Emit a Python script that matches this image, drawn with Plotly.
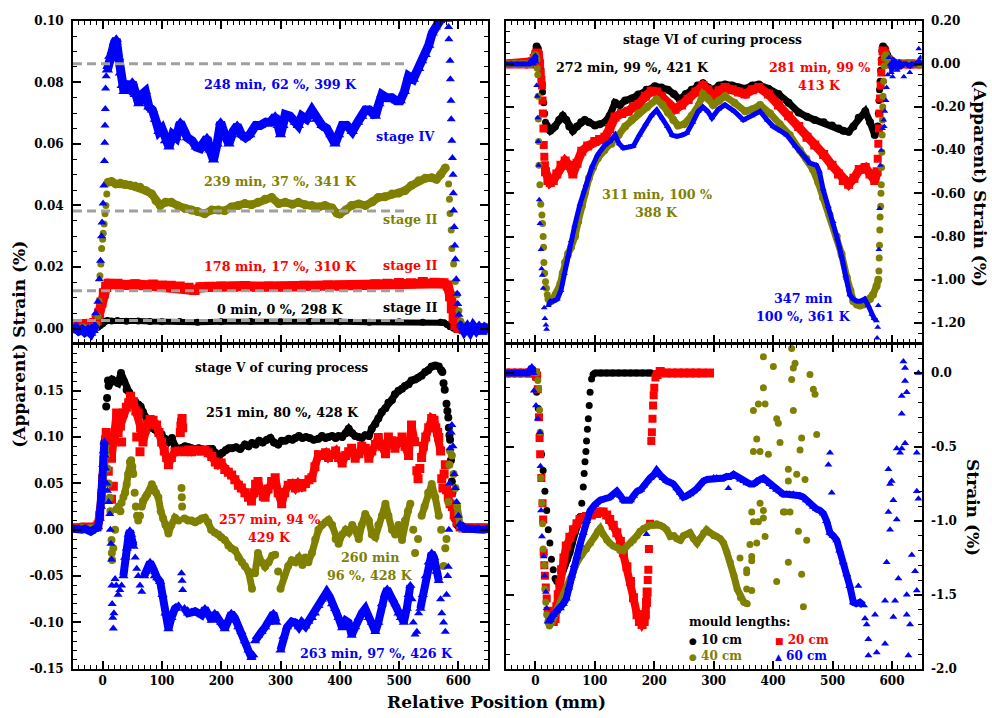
import plotly.graph_objects as go

W, H = 992, 718
FONT = "DejaVu Serif"
BLACK, RED, OLIVE, BLUE = "#000000", "#ff0000", "#808000", "#0000ff"
GRAY = "#a0a0a0"

# ---------------- top-left panel (stages II / IV), strain in % ----------------
TL_BLACK = [(-50,0.0000),(-42,-0.0005),(-35,0.0003),(-28,-0.0004),(-20,0.0002),(-14,-0.0003),(-8,0.0004),(-4,0.0010),(0,0.0016),(4,0.0024),(8,0.0026),(15,0.0025),(25,0.0026),(40,0.0024),(60,0.0025),(80,0.0023),(100,0.0022),(130,0.0023),(160,0.0021),(200,0.0022),(250,0.0023),(300,0.0022),(350,0.0023),(400,0.0022),(450,0.0021),(500,0.0022),(540,0.0021),(570,0.0021),(576,0.0019),(581,0.0013),(586,0.0006),(592,0.0001),(600,-0.0004),(610,0.0001),(620,-0.0006),(630,0.0002),(640,-0.0005),(650,0.0000)]
TL_RED = [(-50,0.0003),(-42,0.0008),(-35,0.0015),(-28,0.0012),(-20,0.0016),(-14,0.0018),(-10,0.0027),(-6,0.0050),(-2,0.0085),(2,0.0115),(6,0.0135),(10,0.0146),(15,0.0144),(25,0.0146),(40,0.0142),(55,0.0144),(70,0.0141),(85,0.0143),(100,0.0140),(115,0.0139),(130,0.0137),(145,0.0133),(155,0.0125),(165,0.0134),(180,0.0136),(200,0.0137),(220,0.0136),(240,0.0138),(260,0.0136),(280,0.0137),(300,0.0136),(320,0.0137),(340,0.0139),(360,0.0138),(380,0.0140),(400,0.0139),(420,0.0141),(440,0.0142),(460,0.0144),(480,0.0146),(500,0.0148),(520,0.0147),(540,0.0151),(560,0.0149),(575,0.0147),(582,0.0140),(586,0.0105),(589,0.0066),(592,0.0035),(595,0.0012),(600,0.0002),(610,-0.0002),(620,0.0003),(630,-0.0003),(640,0.0002),(650,0.0000)]
TL_OLIVE = [(-50,0.0002),(-42,-0.0004),(-34,0.0003),(-26,-0.0002),(-18,0.0002),(-13,0.0004),None,(9,0.0475),(15,0.0478),(22,0.0470),(30,0.0472),(38,0.0468),(46,0.0466),(55,0.0462),(63,0.0459),(73,0.0448),(83,0.0437),(90,0.0415),(97,0.0400),(106,0.0410),(116,0.0410),(128,0.0398),(139,0.0390),(150,0.0385),(160,0.0380),(172,0.0373),(184,0.0385),(195,0.0385),(206,0.0383),(217,0.0395),(229,0.0400),(240,0.0406),(251,0.0402),(262,0.0410),(274,0.0420),(285,0.0426),(297,0.0406),(308,0.0410),(320,0.0404),(330,0.0410),(342,0.0402),(353,0.0400),(364,0.0395),(375,0.0400),(387,0.0392),(395,0.0375),(400,0.0372),(410,0.0385),(420,0.0400),(432,0.0405),(443,0.0400),(455,0.0412),(465,0.0426),(476,0.0428),(488,0.0437),(499,0.0440),(510,0.0448),(521,0.0465),(533,0.0480),(544,0.0488),(555,0.0490),(563,0.0485),(570,0.0500),(578,0.0522),None,(607,0.0010),(615,-0.0004),(625,0.0003),(635,-0.0003),(645,0.0002),(650,0.0000)]
TL_OLIVE_DOTS = [(-12,0.0005),(-10,0.0013),(-8,0.004),(-6,0.009),(-4.5,0.0172),(-3,0.021),(-1.7,0.026),(0,0.029),(1,0.031),(2.5,0.034),(4,0.0373),(5.5,0.040),(7,0.0437),(583.5,0.047),(585,0.042),(586,0.0374),(588,0.032),(589,0.026),(592,0.021),(595,0.0153),(598,0.011),(601,0.0058),(604,0.0025)]
TL_BLUE = [(-50,-0.0005),(-45,0.0002),(-40,-0.0008),(-35,-0.0003),(-30,-0.0012),(-25,-0.0005),(-20,-0.0015),(-16,-0.0006),(-13,0.0010),None,(8,0.084),(12,0.0885),(16,0.090),(20,0.093),(23,0.094),(27,0.088),(30,0.083),(33,0.079),(36,0.077),(40,0.079),(45,0.078),(50,0.080),(55,0.076),(61,0.073),(66,0.076),(72,0.077),(78,0.072),(84,0.071),(89,0.068),(95,0.064),(100,0.065),(106,0.061),(112,0.059),(118,0.063),(124,0.062),(131,0.067),(137,0.064),(143,0.062),(151,0.061),(158,0.059),(165,0.0585),(170,0.061),(176,0.062),(181,0.058),(187,0.0548),(193,0.060),(199,0.067),(206,0.063),(213,0.060),(220,0.064),(227,0.066),(234,0.063),(241,0.062),(248,0.063),(258,0.066),(266,0.066),(275,0.067),(283,0.067),(291,0.069),(296,0.066),(300,0.063),(304,0.066),(308,0.0695),(316,0.069),(325,0.067),(330,0.066),(336,0.069),(344,0.068),(353,0.071),(361,0.068),(370,0.066),(378,0.065),(385,0.063),(392,0.060),(398,0.063),(404,0.066),(412,0.066),(421,0.064),(430,0.067),(437,0.069),(443,0.071),(450,0.071),(460,0.069),(466,0.073),(471,0.076),(479,0.075),(488,0.075),(495,0.074),(502,0.074),(509,0.077),(516,0.082),(524,0.081),(533,0.0845),(538,0.087),(544,0.089),(550,0.092),(556,0.096),(561,0.098),(567,0.1005),(572,0.101),(577,0.101),(581,0.1005),None,(605,0.0010),(610,-0.0008),(615,0.0005),(620,-0.0010),(625,0.0008),(630,-0.0005),(635,0.0010),(640,-0.0012),(645,0.0002),(650,-0.0005)]
TL_BLUE_DOTS = [(-12,0.005),(-8,0.0087),(-5.6,0.016),(-3.6,0.022),(-1.9,0.030),(-1,0.0345),(0.8,0.0406),(2,0.0465),(3,0.0544),(3.5,0.0604),(4,0.066),(4.5,0.0713),(5,0.078),(6,0.082),(7,0.085),(583.5,0.098),(584,0.094),(586,0.087),(586.5,0.081),(587.5,0.074),(588,0.068),(589,0.061),(590,0.0554),(591,0.050),(591.5,0.044),(592,0.0384),(593,0.033),(594,0.027),(595,0.0225),(596.5,0.016),(598,0.0113),(599,0.008),(601,0.0045),(603,0.0015)]
TL_REF_LEVELS = [0.086, 0.0382, 0.0123, 0.0026]
TL_REF_X = [-50, 513]

# ---------------- top-right panel (stage VI) ----------------
TR_BLACK = [(-50,0.0),(-35,0.0),(-20,0.0),(-10,0.0),(-5,0.01),(-2,0.03),(0,0.05),(2,0.08),(4,0.07),(6,0.03),(8,-0.02),None,(19,-0.286),(22,-0.30),(25,-0.31),(29,-0.30),(33,-0.29),(40,-0.26),(46,-0.24),(52,-0.26),(57,-0.29),(63,-0.31),(70,-0.29),(77,-0.27),(83,-0.26),(90,-0.27),(100,-0.285),(108,-0.28),(117,-0.27),(125,-0.24),(134,-0.18),(142,-0.19),(151,-0.17),(162,-0.16),(173,-0.142),(187,-0.12),(201,-0.104),(212,-0.11),(223,-0.12),(233,-0.14),(243,-0.165),(253,-0.14),(263,-0.12),(273,-0.10),(282,-0.09),(291,-0.11),(299,-0.12),(309,-0.10),(319,-0.095),(331,-0.10),(342,-0.11),(353,-0.115),(365,-0.10),(376,-0.096),(392,-0.115),(409,-0.14),(426,-0.18),(443,-0.225),(457,-0.245),(470,-0.26),(485,-0.27),(499,-0.285),(510,-0.30),(518,-0.31),(527,-0.315),(535,-0.29),(544,-0.25),(555,-0.22),(563,-0.27),(571,-0.33),(576,-0.29),None,(585,0.08),(588,0.07),(592,0.04),(596,0.02),(600,0.01),(605,0.0),(620,0.0),(635,0.0),(650,0.0)]
TR_BLACK_DOTS = [(10,-0.074),(11,-0.10),(12,-0.13),(14,-0.18),(15.5,-0.23),(17,-0.27),(577,-0.23),(578,-0.17),(579,-0.12),(580,-0.08),(581,-0.03),(582,0.02),(583,0.06)]
TR_RED = [(-50,0.0),(-35,0.0),(-20,0.0),(-10,0.0),(-5,0.01),(-2,0.025),(1,0.045),(3,0.05),(5,0.04),(7,0.0),None,(17,-0.50),(21,-0.54),(25,-0.55),(30,-0.54),(36,-0.51),(43,-0.47),(50,-0.45),(57,-0.47),(63,-0.51),(70,-0.46),(78,-0.405),(88,-0.38),(100,-0.36),(108,-0.35),(117,-0.34),(125,-0.30),(134,-0.246),(145,-0.23),(156,-0.22),(165,-0.20),(173,-0.19),(185,-0.15),(195,-0.127),(204,-0.13),(212,-0.15),(223,-0.19),(235,-0.21),(246,-0.19),(257,-0.165),(270,-0.13),(282,-0.10),(290,-0.12),(299,-0.15),(309,-0.125),(319,-0.11),(331,-0.12),(342,-0.13),(353,-0.14),(365,-0.12),(376,-0.11),(392,-0.14),(409,-0.19),(426,-0.24),(443,-0.29),(457,-0.34),(470,-0.376),(485,-0.42),(499,-0.47),(510,-0.51),(518,-0.54),(527,-0.558),(536,-0.53),(545,-0.49),(555,-0.48),(563,-0.51),(571,-0.54),(575,-0.50),None,(585,0.06),(588,0.05),(593,0.02),(598,0.0),(610,0.0),(630,0.0),(650,0.0)]
TR_RED_DOTS = [(9,-0.04),(10,-0.074),(11,-0.10),(12,-0.17),(12.5,-0.23),(13.5,-0.30),(14,-0.376),(15,-0.43),(16,-0.47),(576,-0.44),(577,-0.37),(578,-0.30),(579,-0.23),(580,-0.16),(581,-0.10),(582,-0.04),(583,0.01)]
TR_OLIVE = [(-50,0.0),(-35,0.0),(-20,0.0),(-10,0.0),(-5,0.01),(-2,0.03),(0,0.04),(2,0.02),None,(22,-1.09),(26,-1.10),(30,-1.09),(34,-1.07),(37,-1.06),(42,-1.02),(46,-0.97),(50,-0.92),(55,-0.88),(60,-0.85),(66.5,-0.80),(72,-0.73),(78,-0.66),(83,-0.60),(90,-0.53),(97,-0.48),(105,-0.437),(116,-0.40),(128,-0.37),(140,-0.33),(151,-0.29),(162,-0.26),(173,-0.23),(188,-0.20),(204,-0.165),(214,-0.19),(223,-0.225),(232,-0.26),(240,-0.286),(250,-0.28),(263,-0.24),(275,-0.19),(282,-0.14),(290,-0.16),(299,-0.19),(309,-0.17),(319,-0.15),(335,-0.18),(353,-0.22),(365,-0.21),(378,-0.19),(395,-0.23),(411,-0.28),(428,-0.33),(445,-0.40),(456,-0.44),(467,-0.49),(476,-0.55),(484,-0.62),(495,-0.70),(507,-0.80),(515,-0.88),(524,-0.99),(530,-1.05),(535,-1.10),(541,-1.115),(546,-1.12),(552,-1.115),(558,-1.10),(563,-1.09),(568,-1.07),(574,-1.03),(577,-1.00),None,(588,0.03),(590,0.04),(594,0.02),(598,0.0),(610,0.0),(630,0.0),(650,0.0)]
TR_OLIVE_DOTS = [(3,-0.02),(4,-0.05),(4.7,-0.15),(5,-0.255),(5.5,-0.36),(6,-0.47),(7.5,-0.56),(9,-0.65),(11,-0.70),(12,-0.74),(13,-0.80),(13.7,-0.85),(14.3,-0.92),(15.5,-0.97),(17,-1.01),(18.5,-1.04),(20,-1.07),(578,-0.96),(578.5,-0.90),(579,-0.84),(579.5,-0.77),(580,-0.71),(581,-0.66),(581.5,-0.60),(582,-0.56),(582.5,-0.48),(583,-0.41),(583.5,-0.33),(584,-0.26),(584.5,-0.20),(585,-0.15),(586,-0.08),(587,-0.01)]
TR_BLUE = [(-50,0.0),(-40,0.0),(-30,0.0),(-20,0.0),(-10,0.0),(-6,0.02),(-3,0.0),(0,0.04),(1,0.01),None,(21.6,-1.12),(25.6,-1.10),(30,-1.10),(37,-1.09),(43,-1.05),(49,-0.97),(55,-0.89),(60,-0.82),(66,-0.75),(75,-0.65),(85,-0.56),(95,-0.48),(105,-0.42),(117,-0.376),(125,-0.36),(134,-0.33),(141,-0.37),(148,-0.39),(157,-0.385),(165,-0.38),(175,-0.33),(185,-0.28),(195,-0.24),(204,-0.214),(213,-0.25),(222,-0.29),(230,-0.33),(238,-0.336),(247,-0.33),(255,-0.32),(265,-0.27),(274,-0.22),(282,-0.20),(290,-0.22),(297,-0.25),(308,-0.21),(319,-0.19),(335,-0.22),(350,-0.26),(365,-0.24),(378,-0.22),(390,-0.26),(400,-0.29),(412,-0.31),(423,-0.33),(437,-0.38),(450,-0.42),(462,-0.46),(473,-0.47),(478,-0.50),(484,-0.58),(493,-0.66),(501,-0.73),(508,-0.81),(515,-0.89),(522,-0.98),(529,-1.07),(535,-1.09),(541,-1.10),(547,-1.10),(554,-1.09),(560,-1.12),(566,-1.16),(570,-1.18),(574,-1.19),None,(597,0.0),(600,-0.03),(603,0.02),(606,0.0),(609,-0.02),(612,0.01),(616,-0.01),(620,0.0),(624,0.0),(630,-0.01),(633,0.0),(640,0.0),(645,0.01),(650,0.0)]
TR_BLUE_DOTS = [(2,-0.10),(3,-0.15),(4,-0.25),(4.7,-0.36),(5.5,-0.47),(6.4,-0.63),(7.6,-0.74),(9.3,-0.86),(10.4,-0.95),(11.5,-0.98),(13.1,-1.04),(14.8,-1.13),(16,-1.18),(17.7,-1.21),(18.9,-1.23),(575,-1.27),(576,-1.22),(577,-1.12),(578,-0.86),(579,-0.67),(580.5,-0.47),(582,-0.40),(584,-0.30),(586,-0.26),(587,-0.29),(588,-0.22),(590,-0.17),(591,-0.11),(593,-0.05),(595,0.03),(599,-0.04),(601,-0.06),(609,-0.03),(620,-0.06),(630,-0.04),(645,0.07),(648,0.03)]

# ---------------- bottom-left panel (stage V) ----------------
BL_BLACK = [(-50,0.002),(-45,0.002),(-40,0.002),(-35,0.003),(-30,0.002),(-25,0.002),(-20,0.003),(-15,0.002),(-10,0.003),(-8,0.005),(-5,0.015),(-2,0.04),(1,0.07),(3,0.095),(4.5,0.10),None,(12,0.158),(16,0.162),(21,0.160),(26,0.158),(31,0.169),(36,0.160),(40.5,0.151),(45,0.148),(50,0.140),(55,0.138),(60,0.135),(64,0.133),(68,0.127),(74,0.12),(79,0.115),(83,0.110),(88,0.108),(94,0.104),(99.5,0.103),(105,0.098),(111,0.0945),(117,0.099),(122,0.090),(127.6,0.087),(133,0.088),(139,0.09),(145,0.089),(150,0.088),(156,0.087),(162,0.088),(167,0.087),(173,0.086),(179,0.087),(185,0.087),(190,0.083),(196,0.079),(202,0.083),(208,0.086),(213,0.088),(218,0.088),(225,0.089),(232,0.087),(240,0.092),(246,0.090),(252,0.0935),(258,0.092),(264,0.096),(270,0.094),(277,0.097),(283,0.099),(289,0.094),(296,0.092),(302,0.096),(308,0.096),(314,0.098),(320,0.097),(325,0.099),(331,0.101),(337,0.099),(343,0.1),(349,0.099),(356,0.097),(364,0.098),(370,0.101),(376,0.099),(381,0.1),(387,0.101),(393,0.099),(398,0.101),(404,0.1),(410,0.104),(415,0.109),(421,0.104),(426,0.101),(432,0.1),(437,0.099),(443,0.102),(449,0.101),(454,0.109),(460,0.114),(465,0.12),(471,0.127),(477,0.131),(482,0.137),(488,0.14),(493,0.146),(499,0.150),(505,0.152),(510,0.155),(516,0.157),(521,0.161),(527,0.162),(532,0.164),(538,0.166),(544,0.17),(549,0.172),(555,0.176),(561,0.177),(567,0.176),(571,0.172),(573,0.170),None,(594,0.012),(597,0.006),(600,0.004),(605,0.003),(610,0.003),(615,0.002),(620,0.002),(625,0.002),(630,0.002),(635,0.002),(640,0.002),(645,0.002),(650,0.002)]
BL_BLACK_DOTS = [(6,0.133),(7.5,0.142),(9,0.161),(10,0.155),(575,0.158),(577,0.151),(580,0.136),(581.5,0.128),(583,0.121),(584,0.11),(585,0.102),(586,0.097),(587.5,0.075),(589,0.052),(590,0.040),(592,0.024)]
BL_RED = [(-50,0.002),(-45,0.002),(-40,0.002),(-35,0.002),(-30,0.003),(-25,0.002),(-20,0.002),(-15,0.003),(-10,0.003),(-8,0.005),(-5,0.015),(-2,0.035),(0,0.055),(2,0.075),(4,0.09),(6,0.105),(9,0.095),(12,0.0945),(15,0.077),(20,0.098),(23.6,0.126),(26,0.105),(30,0.112),(35,0.126),(40,0.132),(44,0.137),(47,0.144),(52,0.138),(56,0.128),(60,0.126),(64,0.11),(68,0.0945),(72,0.108),(76,0.114),(80,0.119),(85,0.118),(91,0.113),(95,0.105),(99.5,0.0945),(104,0.085),(108,0.078),(111,0.070),(116,0.078),(122,0.084),(128,0.085),(138,0.084),(145,0.086),(150,0.084),(156,0.086),(162,0.085),(167,0.085),(172.5,0.086),(178,0.083),(184,0.079),(190,0.073),(195,0.070),(200,0.072),(206,0.065),(212,0.062),(217.5,0.059),(223,0.054),(229,0.048),(234,0.045),(240,0.040),(246,0.035),(251,0.031),(255,0.040),(258,0.049),(262,0.052),(267,0.042),(271,0.036),(274,0.035),(279,0.044),(285,0.052),(291,0.056),(296,0.040),(302,0.028),(307,0.040),(313,0.048),(319,0.05),(325,0.045),(330,0.05),(336,0.046),(342,0.050),(348,0.054),(353,0.056),(358,0.068),(364,0.081),(370,0.080),(376,0.083),(381,0.078),(387,0.081),(393,0.085),(398,0.078),(404,0.072),(410,0.080),(415,0.084),(420,0.088),(426,0.077),(432,0.082),(437,0.09),(443,0.088),(449,0.077),(454,0.085),(460,0.092),(465,0.0995),(471,0.09),(477,0.082),(482,0.10),(488,0.096),(493,0.088),(499,0.095),(505,0.10),(510,0.09),(516,0.08),(521,0.113),(526,0.095),None,(538,0.078),(541,0.09),(545,0.10),(550,0.11),(555,0.12),(559,0.118),(562,0.11),(565,0.105),(567,0.0995),(570,0.085),None,(598,0.008),(603,0.003),(608,0.002),(615,0.002),(620,0.002),(625,0.002),(630,0.002),(635,0.002),(640,0.002),(645,0.002),(650,0.002)]
BL_RED_DOTS = [(9.5,0.063),(12,0.085),(15,0.033),(18,0.047),(23.6,0.116),(32,0.0945),(57.5,0.10),(63,0.084),(131,0.105),(132,0.112),(133,0.116),(134,0.12),(135,0.11),(530,0.0635),(532,0.055),(535,0.066),(572,0.055),(574,0.045),(576,0.06),(578,0.07),(580,0.043),(583,0.035),(586,0.028),(588,0.04),(590,0.025),(593,0.016),(595,0.014)]
BL_OLIVE = [(-50,0.001),(-45,0.001),(-40,0.001),(-35,0.002),(-30,0.001),(-25,0.001),(-20,0.002),(-15,0.001),(-10,0.002),(-8,0.004),(-5,0.012),(-2,0.03),(0,0.05),(2,0.07),(4,0.085),(5,0.09),None,(35,0.035),(38,0.04),(40.5,0.0487),(43,0.06),(46,0.073),(48,0.075),(50,0.068),(51.7,0.06),None,(66,0.025),(68,0.031),(72,0.035),(75,0.038),(79,0.042),(83,0.049),(86,0.045),(90,0.04),(94,0.035),(98,0.02),(102,0.012),(106,0.005),(111,-0.004),(116,0.005),(122,0.013),(128,0.01),None,(138,0.012),(144,0.01),(150,0.010),(156,0.008),(162,0.01),(167,0.012),(172.5,0.013),(178,0.008),(183,0.0),(189,-0.003),(195,-0.005),(200,-0.008),(206,-0.011),(212,-0.017),(217,-0.02),(223,-0.022),(229,-0.03),(235,-0.035),(240,-0.0395),(246,-0.045),(252,-0.0635),None,(257,-0.047),(262,-0.025),(268,-0.035),(274,-0.04),(280,-0.035),(286,-0.028),(291,-0.027),None,(300,-0.0635),(306,-0.05),(313,-0.039),(319,-0.033),(325,-0.035),(331,-0.03),(337,-0.038),(342,-0.03),(347,-0.035),(353,-0.025),(358.6,-0.0105),(364,0.0),(370,0.005),(376,0.008),(381,0.0106),(387,0.005),(393,-0.01),(398,-0.015),(404,-0.005),(410,0.0),(415,-0.003),(421,0.005),(426,0.0),(432,-0.01),(437,0.005),(443,0.017),(449,0.01),(454,-0.005),(460,-0.008),(465,0.005),(471,0.015),(477,0.028),(482,0.015),(488,0.0),(493.5,-0.005),(499,0.005),(505,-0.011),(510,0.01),(515,0.02),(519,0.028),None,(538,0.015),(543,0.025),(549,0.04),(555,0.0493),(561,0.035),(567,0.015),None,(598,0.025),(600,0.015),(603,0.005),(606,0.0015),(612,0.001),(620,0.001),(628,0.001),(636,0.001),(644,0.001),(650,0.001)]
BL_OLIVE_DOTS = [(6,0.08),(8,0.066),(10,0.05),(12,0.0345),(13,0.02),(15,-0.011),(15.5,-0.025),(16,-0.0325),(18,-0.02),(21,0.0),(23.6,0.022),(27,0.025),(30,0.02),(32,0.029),(54,0.04),(56,0.025),(58,0.015),(60,0.010),(63,0.015),(133,0.045),(133.5,0.035),(134,0.025),(296,-0.045),(524,0.0),(527,-0.025),(532,-0.01),(571,0.0),(575,-0.039),(578,-0.02),(580,-0.01),(583,0.03),(585,0.07),(586,0.085),(589,0.08),(592,0.06),(595,0.045)]
BL_BLUE = [(-50,0.001),(-45,0.0),(-40,0.001),(-35,0.0),(-30,0.001),(-25,0.0),(-20,-0.002),(-15,0.0),(-10,0.001),(-8,0.003),(-5,0.012),(-3,0.025),(-1,0.045),(1,0.07),(2,0.085),(3,0.0945),None,(35,-0.05),(38,-0.03),(41,-0.02),(44,-0.005),(46,-0.001),(48,-0.005),(50,-0.012),(52,-0.018),None,(70,-0.05),(73,-0.045),(77,-0.04),(80,-0.035),(84,-0.04),(88,-0.05),(92,-0.052),(97,-0.056),(101,-0.07),(106,-0.09),(111,-0.107),(116,-0.095),(122,-0.085),(128,-0.082),None,(138,-0.085),(144,-0.09),(150,-0.089),(156,-0.088),(162,-0.09),(167,-0.092),(172.5,-0.085),(178,-0.09),(184,-0.098),(189,-0.09),(195,-0.095),(200,-0.1),(206,-0.107),(212,-0.098),(217,-0.09),(223,-0.095),(229,-0.105),(234,-0.11),(240,-0.12),(246,-0.13),(251,-0.138),(254,-0.135),None,(257,-0.12),(262,-0.114),(268,-0.11),(274,-0.105),(280,-0.1),(288,-0.09),(293,-0.1),None,(300,-0.13),(305,-0.115),(311,-0.105),(319,-0.099),(325,-0.1),(331,-0.105),(336,-0.1),(342,-0.104),(347,-0.099),(353,-0.095),(358,-0.09),(364,-0.082),(370,-0.075),(374,-0.07),(378,-0.067),(383,-0.072),(387,-0.08),(392,-0.085),(398,-0.095),(404,-0.106),(410,-0.098),(415,-0.1),(420,-0.114),(426,-0.105),(432,-0.095),(437,-0.09),(443,-0.085),(449,-0.095),(454,-0.1),(460,-0.11),(465,-0.1),(471,-0.08),(476,-0.07),(480,-0.064),(485,-0.07),(490,-0.075),(494,-0.08),(499,-0.09),(503,-0.095),(508,-0.1),(513,-0.085),(516,-0.07),(519,-0.06),None,(536,-0.085),(540,-0.07),(545,-0.05),(550,-0.035),(555,-0.025),(559,-0.03),(563,-0.045),(567,-0.055),None,(603,0.006),(606,0.002),(610,0.001),(618,0.001),(626,0.0),(634,0.001),(642,0.0),(650,0.001)]
BL_BLUE_DOTS = [(4,0.08),(5,0.066),(7,0.05),(8,0.042),(10,0.03),(12,0.017),(13,0.0),(14,-0.015),(15,-0.032),(15.5,-0.06),(16,-0.08),(17,-0.095),(18,-0.1066),(19,-0.09),(21,-0.053),(23,-0.06),(26,-0.07),(29,-0.065),(32,-0.06),(55,-0.03),(57.5,-0.042),(60,-0.05),(63,-0.06),(66,-0.067),(133,-0.047),(134,-0.055),(135,-0.065),(522,-0.075),(524,-0.1),(527,-0.113),(530,-0.11),(533,-0.09),(570,-0.075),(572,-0.09),(575,-0.1),(578,-0.11),(580,-0.07),(582,-0.05),(583,-0.04),(584,0.0),(585,0.05),(586,0.088),(588,0.105),(589,0.113),(591,0.09),(593,0.06),(595,0.045),(597,0.03),(600,0.015)]

# ---------------- bottom-right panel (mould lengths) ----------------
BR_BLACK = [(-50,0.0),(-40,0.0),(-30,0.0),(-20,0.0),(-10,0.0),(-5,0.0),(-2,0.0),None,(33,-1.39),(36,-1.41),(38.4,-1.41),(41,-1.40),(44,-1.37),(47,-1.33),(49.6,-1.30),(54,-1.26),(58,-1.215),(62,-1.15),(66.5,-1.08),(71,-1.02),(75,-0.97),None,(100,0.0),(110,0.0),(120,0.0),(130,0.0),(140,0.0),(150,0.0),(160,0.0),(170,0.0),(180,0.0),(190,0.0),(195,0.0)]
BR_BLACK_DOTS = [(0,-0.03),(2,-0.13),(4.8,-0.24),(7.6,-0.42),(10.4,-0.55),(13,-0.66),(16,-0.80),(19,-0.93),(21.6,-1.06),(24.4,-1.15),(27,-1.26),(30,-1.33),(78,-0.88),(80.5,-0.77),(82,-0.68),(83.4,-0.60),(85,-0.53),(86,-0.46),(87.5,-0.38),(89,-0.31),(90.5,-0.22),(92,-0.13),(94.5,-0.04),(97,-0.01)]
BR_RED = [(-50,0.0),(-40,0.0),(-30,0.0),(-20,0.0),(-10,0.0),(-5,0.0),(0,0.0),(2,-0.02),None,(21.6,-1.61),(24,-1.65),(27,-1.68),(30,-1.68),(33,-1.66),(36,-1.58),(38.4,-1.50),(41,-1.42),(44,-1.33),(48,-1.25),(52,-1.17),(58,-1.11),(64,-1.06),(70,-1.02),(75,-0.99),(80,-0.98),(86,-0.97),(94,-0.96),(103,-0.95),(109,-0.94),(114,-0.94),(120,-0.96),(125,-0.99),(131,-1.03),(137,-1.08),(143,-1.14),(148,-1.215),(154,-1.31),(160,-1.41),(165,-1.52),(171,-1.635),(175,-1.68),(179.5,-1.70),(183,-1.68),(185,-1.635),(187,-1.55),(188,-1.48),None,(205,-0.01),(210,0.01),(220,0.0),(230,0.0),(240,0.0),(250,0.0),(260,0.0),(270,0.0),(280,0.0),(293,0.0)]
BR_RED_DOTS = [(4,-0.11),(6,-0.30),(7,-0.44),(8,-0.55),(10,-0.71),(12,-0.88),(13,-0.99),(14,-1.215),(15,-1.30),(16,-1.37),(17.5,-1.45),(19,-1.525),(189,-1.40),(190,-1.33),(191,-1.19),(193,-1.02),(195,-0.46),(196,-0.40),(197,-0.31),(198,-0.22),(199,-0.15),(200,-0.10),(202,-0.03)]
BR_OLIVE = [(-50,0.0),(-40,0.0),(-30,0.0),(-20,0.0),(-10,0.0),(-4,0.02),(0,0.01),(2,0.0),None,(21,-1.68),(23.5,-1.71),(27,-1.69),(30,-1.66),(36,-1.60),(42,-1.55),(47,-1.50),(52,-1.46),(58,-1.40),(64,-1.34),(70,-1.28),(78,-1.23),(86,-1.19),(93,-1.15),(100,-1.105),(105,-1.07),(109,-1.05),(114,-1.09),(120,-1.13),(125,-1.15),(131,-1.17),(137,-1.18),(142,-1.20),(148,-1.20),(154,-1.17),(160,-1.15),(165,-1.13),(171,-1.10),(176,-1.07),(182,-1.05),(188,-1.04),(193,-1.03),(198,-1.03),(204,-1.02),(210,-1.03),(215,-1.04),(221,-1.06),(227,-1.105),(233,-1.10),(238,-1.12),(244,-1.13),(249,-1.10),(255,-1.09),(260,-1.08),(266,-1.12),(272,-1.15),(277,-1.12),(283,-1.08),(288,-1.06),(294,-1.08),(300,-1.10),(305,-1.105),(311,-1.12),(316.6,-1.15),(322,-1.21),(328,-1.28),(334,-1.37),(339.6,-1.46),(345,-1.52),(350.8,-1.55),(356.4,-1.56)]
BR_OLIVE_DOTS = [(4,-0.05),(5.5,-0.11),(7,-0.25),(8,-0.40),(9.5,-0.71),(11,-0.88),(12,-1.02),(13,-1.19),(15,-1.30),(16,-1.46),(17.5,-1.55),(19,-1.635),(344.3,-1.25),(355.5,-1.33),(355.5,-1.46),(364,-1.24),(364,-1.47),(355.5,-1.35),(364,-1.27),(364,-0.94),(366.8,-1.005),(375.2,-1.005),(378,-0.88),(383.6,-0.93),(383.6,-0.98),(386.4,-1.105),(366.8,-0.254),(375.2,-0.21),(386.4,-0.21),(372.4,-0.446),(366.8,-0.53),(378,-0.53),(392,-0.55),(383.6,-0.10),(383.6,0.11),(400.4,0.044),(406,-0.31),(408.8,-0.34),(411.6,-0.47),(420,-0.94),(417.2,-0.94),(428.4,-0.94),(425.6,-0.73),(425.6,-0.65),(434,-0.254),(431.2,-0.044),(434,0.033),(436.9,0.066),(431.2,0.166),(439.7,-0.685),(445.3,-0.52),(448,-0.44),(442.5,-1.07),(448,-1.36),(450.9,-1.58),(462,-0.011),(467.7,-0.11),(470.5,-0.144),(473.3,-0.415),(453.7,-0.72),(406,-1.41),(425.6,-1.28),(456.5,-1.13),(361,-1.16),(372.4,-1.15)]
BR_BLUE = [(-50,0.0),(-40,0.0),(-30,0.0),(-20,0.0),(-12,0.0),(-6,0.04),(-4,0.0),None,(21.6,-1.68),(25,-1.67),(30,-1.635),(36,-1.61),(42,-1.59),(47,-1.56),(52,-1.525),(56,-1.45),(61,-1.37),(65,-1.30),(70,-1.24),(75,-1.16),(80.5,-1.08),(86,-1.00),(92,-0.93),(100,-0.89),(109,-0.86),(117,-0.85),(125,-0.84),(131,-0.82),(137,-0.80),(143,-0.83),(148,-0.86),(154,-0.86),(160,-0.86),(165,-0.83),(171,-0.80),(177,-0.79),(182,-0.76),(188,-0.73),(193,-0.71),(199,-0.69),(204,-0.66),(210,-0.69),(215,-0.71),(221,-0.73),(227,-0.74),(232,-0.75),(238,-0.78),(244,-0.81),(249,-0.84),(255,-0.83),(260,-0.82),(266,-0.80),(272,-0.78),(277,-0.75),(283,-0.73),(289,-0.72),(294,-0.72),(300,-0.71),(305,-0.71),(311,-0.72),(316.6,-0.71),(322,-0.70),(328,-0.70),(333.5,-0.685),(339,-0.70),(345,-0.72),(350.8,-0.73),(356,-0.745),(361,-0.75),(367,-0.75),(372,-0.73),(378,-0.72),(383.6,-0.71),(389,-0.73),(395,-0.75),(400.4,-0.77),(406,-0.79),(411,-0.80),(417,-0.82),(423,-0.82),(428,-0.82),(434,-0.82),(440,-0.83),(445,-0.83),(451,-0.84),(456,-0.86),(462,-0.88),(467.7,-0.905),(473,-0.92),(479,-0.93),(484.5,-0.95),(490,-1.00),(495.7,-1.08),(501,-1.10),(507,-1.13),(512,-1.20),(518,-1.28),(524,-1.36),(529,-1.44),(535,-1.55),(540,-1.56),(546,-1.55),(552,-1.57)]
BR_BLUE_DOTS = [(-2.7,-0.12),(1,-0.22),(4,-0.31),(7.6,-0.40),(8.5,-0.63),(9.5,-0.93),(11,-1.105),(14,-1.24),(15.5,-1.37),(17.7,-1.48),(19,-1.59),(187,-1.09),(324.7,-0.78),(495.7,-0.54),(493,-0.62),(498.6,-0.81),(543.4,-1.44),(554.6,-1.66),(557.4,-1.70),(560.3,-1.80),(560.3,-1.91),(574.3,-1.89),(571.5,-1.635),(588.3,-1.83),(588.3,-1.54),(591,-1.28),(594,-0.94),(596.7,-0.75),(594,-0.65),(599.5,-0.73),(596.7,-1.06),(602.3,-0.86),(602.3,-1.65),(605.2,-1.54),(608,-0.99),(610.8,-1.39),(613.6,-0.54),(616.4,-0.51),(616.4,-0.155),(616.4,-0.276),(619.2,0.077),(622,0.033),(622,-0.055),(624.8,-0.13),(622,-0.475),(624.8,-1.50),(624.8,-1.635),(627.6,-1.91),(630.4,-1.70),(633.3,-1.23),(638.9,-1.34),(641.7,-0.80),(641.7,-0.54),(644.5,-0.85),(644.5,0.0),(641.7,-1.47),(608,-0.51)]

LEGEND_TITLE = "mould lengths:"
LEGEND_LABELS = ["10 cm", "20 cm", "40 cm", "60 cm"]

TL_YTICKS = [0.00, 0.02, 0.04, 0.06, 0.08, 0.10]
TR_YTICKS = [0.20, 0.00, -0.20, -0.40, -0.60, -0.80, -1.00, -1.20]
BL_YTICKS = [0.15, 0.10, 0.05, 0.00, -0.05, -0.10, -0.15]
BR_YTICKS = [0.0, -0.5, -1.0, -1.5, -2.0]

# ---------------------------------------------------------------------------
fig = go.Figure()


def unzip(pairs):
    xs = [None if p is None else p[0] for p in pairs]
    ys = [None if p is None else p[1] for p in pairs]
    return xs, ys


def body(pairs, color, symbol, size, width, ax):
    xs, ys = unzip(pairs)
    fig.add_trace(go.Scatter(
        x=xs, y=ys, mode="lines+markers", connectgaps=False,
        line=dict(color=color, width=width),
        marker=dict(color=color, symbol=symbol, size=size, line=dict(width=0)),
        xaxis="x" + ax, yaxis="y" + ax, showlegend=False, hoverinfo="skip"))


def dots(pairs, color, symbol, size, ax):
    xs, ys = unzip(pairs)
    fig.add_trace(go.Scatter(
        x=xs, y=ys, mode="markers",
        marker=dict(color=color, symbol=symbol, size=size, line=dict(width=0)),
        xaxis="x" + ax, yaxis="y" + ax, showlegend=False, hoverinfo="skip"))


# top-left
body(TL_BLACK, BLACK, "circle", 7, 6, "")
body(TL_RED, RED, "square", 10, 10, "")
body(TL_OLIVE, OLIVE, "circle", 9, 8, "")
dots(TL_OLIVE_DOTS, OLIVE, "circle", 7, "")
body(TL_BLUE, BLUE, "triangle-up", 10, 9, "")
dots(TL_BLUE_DOTS, BLUE, "triangle-up", 8, "")
for lev in TL_REF_LEVELS:
    fig.add_trace(go.Scatter(x=TL_REF_X, y=[lev, lev], mode="lines",
                             line=dict(color=GRAY, width=3, dash="9px,5px"),
                             xaxis="x", yaxis="y", showlegend=False, hoverinfo="skip"))

# top-right
body(TR_BLACK, BLACK, "circle", 8, 7, "2")
dots(TR_BLACK_DOTS, BLACK, "circle", 7, "2")
body(TR_RED, RED, "square", 9, 9, "2")
dots(TR_RED_DOTS, RED, "square", 8, "2")
body(TR_OLIVE, OLIVE, "circle", 8, 7, "2")
dots(TR_OLIVE_DOTS, OLIVE, "circle", 7, "2")
body(TR_BLUE, BLUE, "triangle-up", 6, 5, "2")
dots(TR_BLUE_DOTS, BLUE, "triangle-up", 6, "2")

# bottom-left
body(BL_BLACK, BLACK, "circle", 8, 7, "3")
dots(BL_BLACK_DOTS, BLACK, "circle", 8, "3")
body(BL_RED, RED, "square", 9, 8, "3")
dots(BL_RED_DOTS, RED, "square", 9, "3")
body(BL_OLIVE, OLIVE, "circle", 8, 7, "3")
dots(BL_OLIVE_DOTS, OLIVE, "circle", 8, "3")
body(BL_BLUE, BLUE, "triangle-up", 9, 8, "3")
dots(BL_BLUE_DOTS, BLUE, "triangle-up", 8, "3")

# bottom-right
body(BR_BLACK, BLACK, "circle", 7, 7, "4")
dots(BR_BLACK_DOTS, BLACK, "circle", 7, "4")
body(BR_RED, RED, "square", 9, 8, "4")
dots(BR_RED_DOTS, RED, "square", 8, "4")
body(BR_OLIVE, OLIVE, "circle", 7, 7, "4")
dots(BR_OLIVE_DOTS, OLIVE, "circle", 7, "4")
body(BR_BLUE, BLUE, "triangle-up", 8, 7, "4")
dots(BR_BLUE_DOTS, BLUE, "triangle-up", 7, "4")

# ---------------- axes ----------------
def px_x(p):
    return p / W


def px_y(p):
    return 1 - p / H


TICKFONT = dict(family=FONT, size=12, color="black", weight="bold")


def xaxis(dom, labels, anchor):
    return dict(domain=dom, range=[-50, 650], anchor=anchor, showline=True, linecolor="black",
                linewidth=2, mirror="ticks", ticks="inside", ticklen=8, tickwidth=1.5,
                tickcolor="black", tick0=0, dtick=100, showticklabels=labels,
                tickfont=TICKFONT, showgrid=False, zeroline=False,
                minor=dict(ticks="inside", ticklen=4, tickwidth=1.2, tickcolor="black",
                           tick0=0, dtick=10, showgrid=False))


def yaxis(dom, rng, vals, fmt, side, anchor, mdt):
    return dict(domain=dom, range=rng, anchor=anchor, side=side, showline=True,
                linecolor="black", linewidth=2, mirror="ticks", ticks="inside", ticklen=8,
                tickwidth=1.5, tickcolor="black", tickmode="array", tickvals=vals,
                ticktext=[fmt.format(v) for v in vals], tickfont=TICKFONT,
                ticklabelstandoff=5, showgrid=False, zeroline=False,
                minor=dict(ticks="inside", ticklen=4, tickwidth=1.2, tickcolor="black",
                           tick0=0, dtick=mdt, showgrid=False))


XL = [px_x(73), px_x(488)]
XR = [px_x(505.7), px_x(921.7)]
YT = [px_y(343), px_y(14)]
YB = [px_y(675), px_y(344)]

fig.update_layout(
    width=W, height=H, margin=dict(l=0, r=0, t=0, b=0),
    paper_bgcolor="white", plot_bgcolor="white", showlegend=False,
    xaxis=xaxis(XL, False, "y"),
    yaxis=yaxis(YT, [-0.00478, 0.1], TL_YTICKS, "{:.2f}", "left", "x", 0.005),
    xaxis2=xaxis(XR, False, "y2"),
    yaxis2=yaxis(YT, [-1.295, 0.2], TR_YTICKS, "{:.2f}", "right", "x2", 0.05),
    xaxis3=xaxis(XL, True, "y3"),
    yaxis3=yaxis(YB, [-0.15, 0.2], BL_YTICKS, "{:.2f}", "left", "x3", 0.01),
    xaxis4=xaxis(XR, True, "y4"),
    yaxis4=yaxis(YB, [-2.0, 0.194], BR_YTICKS, "{:.1f}", "right", "x4", 0.1),
)

# ---------------- text ----------------
anns = []


def ann(text, color, px, py, size=12.7, xanchor="center", angle=0):
    anns.append(dict(text=text, x=px_x(px), y=px_y(py), xref="paper", yref="paper",
                     xanchor=xanchor, yanchor="middle", showarrow=False, textangle=angle,
                     font=dict(family=FONT, size=size, color=color, weight="bold")))


# top-left
ann("248 min, 62 %, 399 K", BLUE, 280, 79)
ann("stage IV", BLUE, 406, 132)
ann("239 min, 37 %, 341 K", OLIVE, 280, 178)
ann("stage II", OLIVE, 410, 217)
ann("178 min, 17 %, 310 K", RED, 280, 265)
ann("stage II", RED, 410, 264)
ann("0 min, 0 %, 298 K", BLACK, 280, 309)
ann("stage II", BLACK, 410, 306)
# top-right
ann("stage VI of curing process", BLACK, 712.7, 33.3, 12.2)
ann("272 min, 99 %, 421 K", BLACK, 632.7, 62)
ann("281 min, 99 %", RED, 819, 61.7)
ann("413 K", RED, 819, 80)
ann("311 min, 100 %", OLIVE, 656.7, 191.7)
ann("388 K", OLIVE, 656.7, 210)
ann("347 min", BLUE, 803, 297)
ann("100 %, 361 K", BLUE, 803, 316)
# bottom-left
ann("stage V of curing process", BLACK, 281, 367.7, 12.2)
ann("251 min, 80 %, 428 K", BLACK, 282, 414)
ann("257 min, 94 %", RED, 269, 522.7)
ann("429 K", RED, 269, 541)
ann("260 min", OLIVE, 370, 561.7)
ann("96 %, 428 K", OLIVE, 370, 579.3)
ann("263 min, 97 %, 426 K", BLUE, 376.7, 659.3)
# legend (bottom-right)
ann(LEGEND_TITLE, BLACK, 687, 627.3, 12, "left")
ann('<span style="font-size:9px">\u25CF</span> ' + LEGEND_LABELS[0], BLACK, 687, 645.3, 12, "left")
ann('<span style="font-size:9px">\u25A0</span> ' + LEGEND_LABELS[1], RED, 772.5, 645.3, 12, "left")
ann('<span style="font-size:9px">\u25CF</span> ' + LEGEND_LABELS[2], OLIVE, 687, 661.7, 12, "left")
ann('<span style="font-size:9px">\u25B2</span> ' + LEGEND_LABELS[3], BLUE, 772.5, 661.7, 12, "left")
# axis titles
ann("(Apparent) Strain (%)", BLACK, 19, 344.5, 17, "center", -90)
ann("(Apparent) Strain (%)", BLACK, 980, 179.5, 17, "center", 90)
ann("Strain (%)", BLACK, 973, 510, 17, "center", 90)
ann("Relative Position (mm)", BLACK, 496.5, 709, 17)

fig.update_layout(annotations=anns)
fig.write_html("out.html")
